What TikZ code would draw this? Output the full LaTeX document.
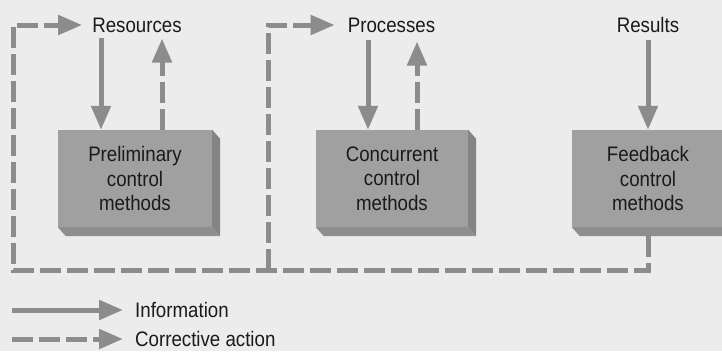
\documentclass[tikz,border=0pt]{standalone}
\usepackage{fontspec}
\setmainfont[FakeStretch=0.89]{Liberation Sans}
\usetikzlibrary{arrows.meta,calc}

\definecolor{bg}{HTML}{ECECEC}
\definecolor{ink}{HTML}{1A1A1A}
\definecolor{facegray}{HTML}{A0A0A0}
\definecolor{sidegray}{HTML}{848484}
\definecolor{basegray}{HTML}{8E8E8E}
\definecolor{flowgray}{HTML}{8C8C8C}

\tikzset{
  lbl/.style={inner sep=0pt, text=ink, font=\fontsize{21}{24.5}\selectfont},
  face/.style={fill=facegray, minimum width=154pt, minimum height=97pt,
    inner sep=0pt, align=center, text=ink, font=\fontsize{21}{24.5}\selectfont},
  info/.style={draw=flowgray, line width=5pt, line join=miter,
    -{Triangle[length=24pt,width=19pt]}},
  corr/.style={info, dash pattern=on 21pt off 6pt},
}

% extruded side and base of a control box
\newcommand{\boxdepth}[1]{%
  \fill[sidegray] (#1.north east) -- ++(8,9) -- ($(#1.south east)+(8,9)$)
    -- (#1.south east) -- cycle;
  \fill[basegray] (#1.south west) -- (#1.south east) -- ++(8,9)
    -- ($(#1.south west)+(8,9)$) -- cycle;
}

\begin{document}
\begin{tikzpicture}[x=1pt,y=-1pt]
\useasboundingbox (0,0) rectangle (722,351);
\fill[bg] (0,0) rectangle (722,351);

% stage labels
\node[lbl] (res)  at (137,25) {Resources};
\node[lbl] (proc) at (391.5,25) {Processes};
\node[lbl] (rslt) at (648,25) {Results};

% control boxes
\node[face] (p1) at (135,178.5) {Preliminary\\control\\methods};
\node[face, minimum width=152pt] (p2) at (392,178.5) {Concurrent\\control\\methods};
\node[face, minimum width=152pt] (p3) at (648,178.5) {Feedback\\control\\methods};
\boxdepth{p1}
\boxdepth{p2}
\boxdepth{p3}

% vertical positions of the flows
\coordinate (x1) at (101,0);
\coordinate (x2) at (162,0);
\coordinate (x3) at (368,0);
\coordinate (x4) at (417,0);
\coordinate (loopL) at (13,270);
\coordinate (branch) at (268,270);

% information flows
\draw[info, shorten <=5pt] (res.south -| x1) -- (p1.north -| x1);
\draw[info, shorten <=7pt] (proc.south -| x3) -- (p2.north -| x3);
\draw[info, shorten <=7pt] (rslt.south) -- (p3.north);

% corrective actions back to each stage
\draw[corr, shorten >=6pt] (p1.north -| x2) -- (res.south -| x2);
\draw[corr, shorten >=9pt] (p2.north -| x4) -- (proc.south -| x4);
\draw[corr, shorten >=10pt] ($(p3.south)+(0,9)$) |- (loopL) |- (res.west);
\draw[corr, shorten >=13pt] (branch) |- (proc.west);

% legend
\node[lbl, anchor=west] (leginfo) at (135,310) {Information};
\node[lbl, anchor=west] (legcorr) at (135,339) {Corrective action};
\coordinate (li) at (12,310);
\coordinate (lc) at (12,339);
\draw[info, shorten >=12pt] (li) -- (leginfo.west);
\draw[corr, shorten >=12pt] (lc) -- (legcorr.west);
\end{tikzpicture}
\end{document}
